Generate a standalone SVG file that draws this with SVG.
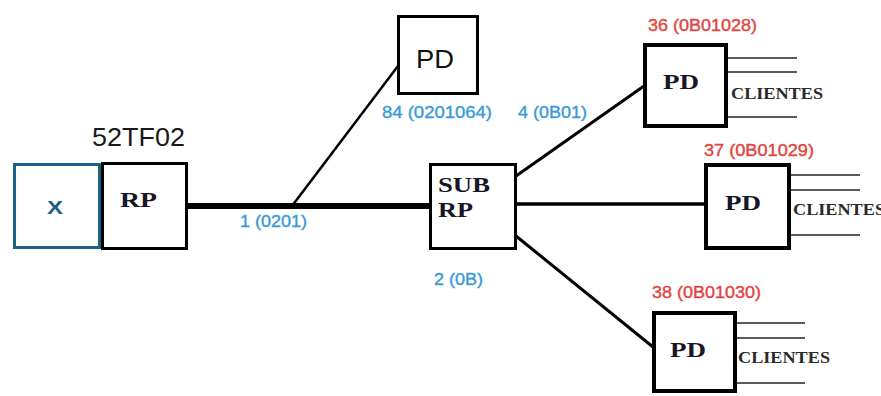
<svg xmlns="http://www.w3.org/2000/svg" width="881" height="396" viewBox="0 0 881 396">
  <style>
    .box { fill: #ffffff; stroke: #000000; stroke-width: 3; }
    .box4 { fill: #ffffff; stroke: #000000; stroke-width: 4; }
    .xbox { fill: #ffffff; stroke: #1e5f82; stroke-width: 3; }
    .serif { font-family: "Liberation Serif", "DejaVu Serif", serif; font-weight: bold; fill: #161626; }
    .node { font-size: 22px; }
    .cli { font-size: 16px; fill: #2a2a2a; }
    .sans { font-family: "Liberation Sans", "DejaVu Sans", sans-serif; }
    .blue { font-size: 17px; fill: #3b9bd8; stroke: #3b9bd8; stroke-width: 0.4; }
    .red { font-size: 17px; fill: #e2453f; stroke: #e2453f; stroke-width: 0.4; }
    .wire { stroke: #000000; fill: none; }
    .client { stroke: #5a5a5a; stroke-width: 2; }
  </style>
  <rect width="881" height="396" fill="#ffffff"/>

  <!-- connectors -->
  <g id="connectors">
    <line class="wire" x1="188" y1="206" x2="431" y2="206" stroke-width="6"/>
    <line class="wire" x1="292" y1="206" x2="398" y2="66" stroke-width="2.5"/>
    <line class="wire" x1="516" y1="176" x2="644" y2="86" stroke-width="3"/>
    <line class="wire" x1="516" y1="204" x2="705" y2="204" stroke-width="3.5"/>
    <line class="wire" x1="516" y1="236" x2="653" y2="347" stroke-width="3"/>
    <!-- client drops -->
    <line class="client" x1="728" y1="58" x2="797" y2="58"/>
    <line class="client" x1="728" y1="72" x2="797" y2="72"/>
    <line class="client" x1="728" y1="117" x2="797" y2="117"/>
    <line class="client" x1="791" y1="175" x2="860" y2="175"/>
    <line class="client" x1="791" y1="190" x2="860" y2="190"/>
    <line class="client" x1="791" y1="235" x2="860" y2="235"/>
    <line class="client" x1="737" y1="323" x2="805" y2="323"/>
    <line class="client" x1="737" y1="338" x2="805" y2="338"/>
    <line class="client" x1="737" y1="383" x2="805" y2="383"/>
  </g>

  <!-- link labels -->
  <g id="link-labels" class="sans">
    <text class="blue" x="240" y="227" textLength="67" lengthAdjust="spacingAndGlyphs">1 (0201)</text>
    <text class="blue" x="382" y="118" textLength="110" lengthAdjust="spacingAndGlyphs">84 (0201064)</text>
    <text class="blue" x="518" y="118" textLength="69" lengthAdjust="spacingAndGlyphs">4 (0B01)</text>
    <text class="blue" x="434" y="285" textLength="49" lengthAdjust="spacingAndGlyphs">2 (0B)</text>
  </g>

  <g id="node-x">
    <rect class="xbox" x="14.5" y="164.5" width="85" height="83"/>
    <text class="sans" x="47" y="214" font-size="19" font-weight="bold" fill="#1e5f82" textLength="16" lengthAdjust="spacingAndGlyphs">X</text>
  </g>

  <g id="node-rp">
    <rect class="box" x="102.5" y="163.5" width="84" height="85"/>
    <text class="serif node" x="120" y="207" textLength="37" lengthAdjust="spacingAndGlyphs">RP</text>
    <text class="sans" x="92" y="146" font-size="26" fill="#1a1a1a" textLength="93" lengthAdjust="spacingAndGlyphs">52TF02</text>
  </g>

  <g id="node-pd-84">
    <rect class="box" x="398.5" y="16.5" width="79" height="77"/>
    <text class="sans" x="416" y="68" font-size="26" fill="#111111" textLength="38" lengthAdjust="spacingAndGlyphs">PD</text>
  </g>

  <g id="node-sub-rp">
    <rect class="box" x="430.5" y="164.5" width="85" height="84"/>
    <text class="serif" x="438" y="192" font-size="21" textLength="52" lengthAdjust="spacingAndGlyphs">SUB</text>
    <text class="serif" x="438" y="217" font-size="21" textLength="35" lengthAdjust="spacingAndGlyphs">RP</text>
  </g>

  <g id="node-pd-36">
    <rect class="box4" x="645" y="45" width="81" height="81"/>
    <text class="serif node" x="663" y="89" textLength="36" lengthAdjust="spacingAndGlyphs">PD</text>
    <text class="serif cli" x="731" y="99" textLength="92" lengthAdjust="spacingAndGlyphs">CLIENTES</text>
    <text class="sans red" x="648" y="31" textLength="109" lengthAdjust="spacingAndGlyphs">36 (0B01028)</text>
  </g>

  <g id="node-pd-37">
    <rect class="box4" x="706" y="165" width="83" height="83"/>
    <text class="serif node" x="725" y="210" textLength="36" lengthAdjust="spacingAndGlyphs">PD</text>
    <text class="serif cli" x="793" y="215" textLength="92" lengthAdjust="spacingAndGlyphs">CLIENTES</text>
    <text class="sans red" x="704" y="156" textLength="110" lengthAdjust="spacingAndGlyphs">37 (0B01029)</text>
  </g>

  <g id="node-pd-38">
    <rect class="box4" x="654" y="313" width="81" height="78"/>
    <text class="serif node" x="670" y="357" textLength="36" lengthAdjust="spacingAndGlyphs">PD</text>
    <text class="serif cli" x="738" y="363" textLength="92" lengthAdjust="spacingAndGlyphs">CLIENTES</text>
    <text class="sans red" x="652" y="298" textLength="109" lengthAdjust="spacingAndGlyphs">38 (0B01030)</text>
  </g>
</svg>
